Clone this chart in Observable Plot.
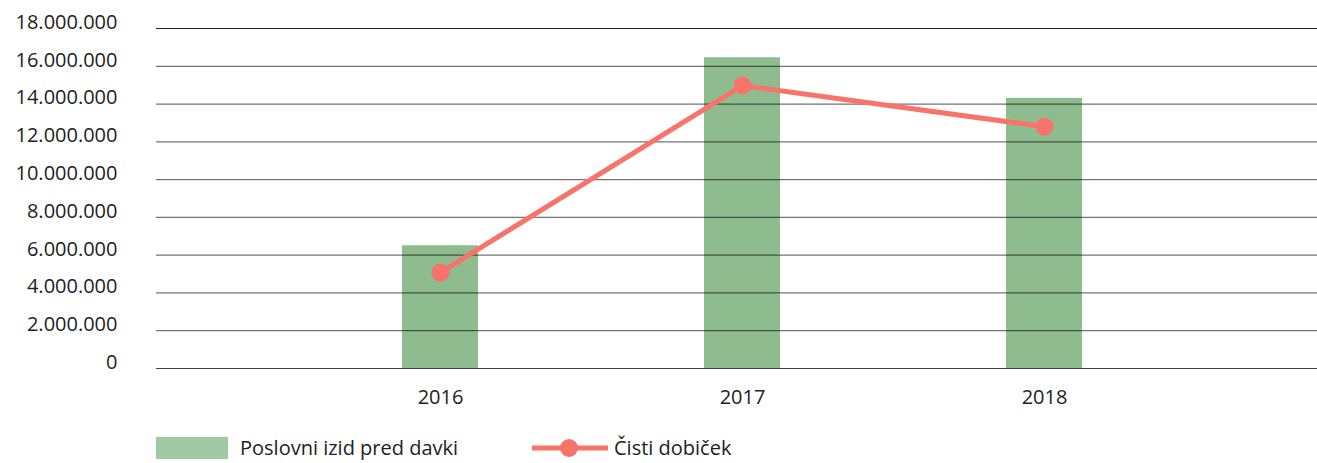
<!DOCTYPE html>
<html>
<head>
<meta charset="utf-8">
<script src="https://cdn.jsdelivr.net/npm/d3@7"></script>
<script src="https://cdn.jsdelivr.net/npm/@observablehq/plot@0.6"></script>
<style>
  body { margin: 0; background: #fff; font-family: "Open Sans", sans-serif; }
  #legend { position: relative; height: 33px; font-size: 20px; color: #222; }
  .item { position: absolute; top: 9px; display: flex; align-items: center; line-height: 22px; }
</style>
</head>
<body>
<div id="chart"></div>
<div id="legend">
  <div class="item" style="left:156px;">
    <span style="display:inline-block;width:72px;height:22px;background:#a2c9a2;margin-right:12px;"></span>
    <span>Poslovni izid pred davki</span>
  </div>
  <div class="item" style="left:532px;">
    <svg width="78" height="22" style="margin-right:4px;"><line x1="0" y1="11" x2="76" y2="11" stroke="#f8736a" stroke-width="5"/><circle cx="37" cy="11" r="9" fill="#f8736a"/></svg>
    <span>Čisti dobiček</span>
  </div>
</div>
<script>
const years = ["2016", "2017", "2018"];
const poslovniIzid = [6500000, 16450000, 14300000];
const cistiDobicek = [5080000, 14980000, 12800000];
const yTicks = [0, 2000000, 4000000, 6000000, 8000000, 10000000, 12000000, 14000000, 16000000, 18000000];

const data = years.map((y, i) => ({year: y, izid: poslovniIzid[i], dobicek: cistiDobicek[i]}));
const fmt = d => d3.format(",")(d).replace(/,/g, ".");

const chart = Plot.plot({
  width: 1317,
  height: 428,
  marginLeft: 156,
  marginRight: 0,
  marginTop: 28,
  marginBottom: 60,
  style: {fontFamily: "Open Sans, sans-serif", fontSize: "20px", color: "#222", background: "#fff"},
  x: {domain: years, range: [288, 1196], paddingInner: 0.75, paddingOuter: 0.375, label: null},
  y: {domain: [0, 18000000], label: null},
  marks: [
    Plot.barY(data, {x: "year", y: "izid", fill: "#8fbc8f"}),
    Plot.ruleY(yTicks.filter(d => d > 0 && d < 18000000), {stroke: "#000", strokeOpacity: 0.55, strokeWidth: 1.2}),
    Plot.ruleY([18000000], {stroke: "#222", strokeWidth: 1.2}),
    Plot.ruleY([0], {stroke: "#444", strokeWidth: 1.2}),
    Plot.axisY({ticks: yTicks, tickFormat: fmt, tickSize: 0, tickPadding: 39, fontSize: 20, dy: -6}),
    Plot.axisX({tickSize: 0, tickPadding: 21, fontSize: 20}),
    Plot.lineY(data, {x: "year", y: "dobicek", stroke: "#f8736a", strokeWidth: 5}),
    Plot.dot(data, {x: "year", y: "dobicek", r: 9, fill: "#f8736a"})
  ]
});
document.getElementById("chart").appendChild(chart);
</script>
</body>
</html>
